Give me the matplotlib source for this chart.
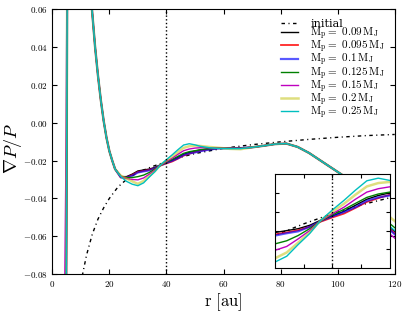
import numpy as np
import matplotlib
matplotlib.use("Agg")
import matplotlib.pyplot as plt
from matplotlib.ticker import FuncFormatter

plt.rcParams['mathtext.fontset'] = 'cm'
plt.rcParams['font.family'] = 'serif'
plt.rcParams['font.serif'] = ['DejaVu Serif']
plt.rcParams['xtick.direction'] = 'in'
plt.rcParams['ytick.direction'] = 'in'
plt.rcParams['xtick.top'] = True
plt.rcParams['ytick.right'] = True

# initial profile
r_init = [10.5, 12, 14, 16, 18, 20, 23, 26, 30, 35, 40, 45, 50, 60, 70, 80, 90, 100, 110, 120]
v_init = [-0.081, -0.070, -0.059, -0.051, -0.045, -0.040, -0.034, -0.030, -0.0262, -0.0232,
          -0.0205, -0.0182, -0.0163, -0.0135, -0.0116, -0.0101, -0.0088, -0.0077, -0.0068, -0.0062]

# radius grid shared by the planet-mass runs
r = [4.4, 4.9, 5.5, 13.0, 13.9, 15, 16, 17, 18, 19, 20, 21,
     22, 24, 26, 28, 30, 32, 34, 36, 38, 40, 42, 44, 46, 48, 50, 52, 55, 58, 62, 66,
     70, 74, 78, 82, 86, 90, 94, 98, 102, 106, 110, 114, 118, 120]

# inner part (same for all runs)
inner = [-0.5, -0.08, 0.2, 0.2, 0.060, 0.040, 0.025, 0.012, 0.001, -0.008, -0.015, -0.020]
inner_m = [-0.08, 0.0, 0.2, 0.2, 0.060, 0.040, 0.025, 0.012, 0.001, -0.008, -0.015, -0.020]
# outer part 70..110
outer = [-0.0130, -0.0122, -0.0113, -0.0110, -0.0128, -0.0160, -0.0200, -0.0240, -0.0280, -0.0325, -0.0375]

v_009 = inner + [-0.0245, -0.0285, -0.0285, -0.0272, -0.0255, -0.0250, -0.0245, -0.0236, -0.0222, -0.0211,
                 -0.0199, -0.0183, -0.0167, -0.0157, -0.0150, -0.0144, -0.0138, -0.0135, -0.0134, -0.0134] \
        + outer + [-0.0435, -0.0550, -0.0575]
v_0095 = inner + [-0.0245, -0.0290, -0.0290, -0.0276, -0.0260, -0.0255, -0.0249, -0.0240, -0.0226, -0.0215,
                  -0.0205, -0.0190, -0.0174, -0.0164, -0.0155, -0.0148, -0.0140, -0.0135, -0.0134, -0.0134] \
         + outer + [-0.0435, -0.0560, -0.0585]
v_01 = inner + [-0.0245, -0.0288, -0.0290, -0.0280, -0.0263, -0.0257, -0.0252, -0.0240, -0.0224, -0.0212,
                -0.0201, -0.0188, -0.0171, -0.0162, -0.0157, -0.0150, -0.0142, -0.0136, -0.0134, -0.0134] \
       + outer + [-0.0440, -0.0563, -0.0590]
v_0125 = inner + [-0.0245, -0.0283, -0.0290, -0.0290, -0.0285, -0.0277, -0.0263, -0.0245, -0.0224, -0.0208,
                  -0.0194, -0.0178, -0.0162, -0.0153, -0.0148, -0.0142, -0.0137, -0.0135, -0.0134, -0.0134] \
         + outer + [-0.0430, -0.0530, -0.0555]
v_015 = inner_m + [-0.0245, -0.0283, -0.0295, -0.0300, -0.0302, -0.0292, -0.0272, -0.0250, -0.0223, -0.0205,
                   -0.0188, -0.0167, -0.0148, -0.0139, -0.0134, -0.0132, -0.0132, -0.0134, -0.0135, -0.0135] \
        + outer + [-0.0450, -0.0585, -0.0610]
v_02 = inner + [-0.0245, -0.0280, -0.0295, -0.0310, -0.0323, -0.0308, -0.0282, -0.0255, -0.0222, -0.0200,
                -0.0179, -0.0155, -0.0133, -0.0124, -0.0121, -0.0123, -0.0128, -0.0132, -0.0138, -0.0140] \
       + outer + [-0.0420, -0.0495, -0.0520]
v_025 = inner + [-0.0245, -0.0285, -0.0310, -0.0325, -0.0333, -0.0318, -0.0287, -0.0258, -0.0222, -0.0195,
                 -0.0170, -0.0143, -0.0118, -0.0111, -0.0117, -0.0125, -0.0132, -0.0136, -0.0137, -0.0137] \
        + outer + [-0.0435, -0.0545, -0.0570]

labels = ['0.09', '0.095', '0.1', '0.125', '0.15', '0.2', '0.25']
runs = [v_009, v_0095, v_01, v_0125, v_015, v_02, v_025]
colors = ['k', 'r', 'b', 'g', 'm', 'y', 'c']
widths = [1.0, 1.3, 1.6, 1.0, 1.0, 1.8, 1.0]
alphas = [1.0, 0.85, 0.65, 1.0, 1.0, 0.5, 1.0]


def draw(ax):
    ax.plot(r_init, v_init, color='k', ls=(0, (2.5, 2.5, 0.8, 2.5)), lw=1.0, label='initial')
    for v, lab, c, w, a in zip(runs, labels, colors, widths, alphas):
        ax.plot(r, v, color=c, lw=w, alpha=a,
                label=r'$\mathrm{M_p =\ ' + lab + r'\,M_J}$')
    ax.axvline(40, color='k', ls=':', lw=1.0)


fig = plt.figure(figsize=(4.07, 3.12), dpi=100)
ax = fig.add_axes([0.1285, 0.1218, 0.8413, 0.8484])
draw(ax)
ax.set_xlim(0, 120)
ax.set_ylim(-0.08, 0.06)
ax.set_xticks(np.arange(0, 121, 20))
ax.set_yticks(np.arange(-0.08, 0.061, 0.02))
ax.yaxis.set_major_formatter(FuncFormatter(lambda v, p: r'$%.2f$' % v))
ax.xaxis.set_major_formatter(FuncFormatter(lambda v, p: r'$%d$' % v))
ax.tick_params(labelsize=6.5, length=3.5, width=0.8)
ax.set_xlabel(r'$\mathrm{r\ [au]}$', fontsize=12, labelpad=2)
ax.set_ylabel(r'$\nabla P/P$', fontsize=13)
ax.yaxis.set_label_coords(-0.083, 0.476)
ax.legend(loc='upper left', bbox_to_anchor=(0.653, 0.985), frameon=False, fontsize=8,
          handlelength=1.5, labelspacing=-0.3, borderpad=0, handletextpad=1.1)

ins = fig.add_axes([0.6764, 0.140, 0.2811, 0.3023])
draw(ins)
ins.set_xlim(30, 50)
ins.set_ylim(-0.035, -0.010)
ins.set_xticks([35, 40, 45])
ins.set_yticks([-0.030, -0.025, -0.020, -0.015])
ins.tick_params(labelbottom=False, labelleft=False, length=3, width=0.8)

fig.savefig('out.png', dpi=100)
